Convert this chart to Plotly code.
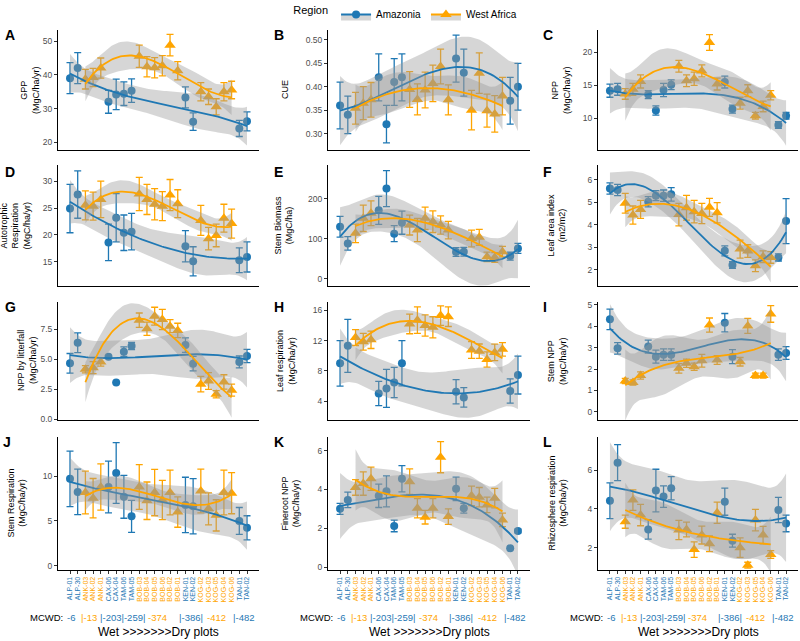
import numpy as np
import plotly.graph_objects as go

# ---------------- data ----------------
PLOTS = ["ALP-01", "ALP-30", "ANK-03", "ANK-02", "ANK-01", "CAX-06", "CAX-04", "TAM-06",
         "TAM-05", "BOB-03", "BOB-04", "BOB-05", "BOB-06", "BOB-02", "BOB-01", "KEN-01",
         "KEN-02", "KOG-02", "KOG-03", "KOG-05", "KOG-04", "KOG-06", "TAN-01", "TAN-02"]
AMAZONIA_PLOTS = ["ALP-01", "ALP-30", "CAX-06", "CAX-04", "TAM-06", "TAM-05",
                  "KEN-01", "KEN-02", "TAN-01", "TAN-02"]
AFRICA_PLOTS = ["ANK-03", "ANK-02", "ANK-01", "BOB-03", "BOB-04", "BOB-05", "BOB-06",
                "BOB-02", "BOB-01", "KOG-02", "KOG-03", "KOG-05", "KOG-04", "KOG-06"]

gpp_am = [39.0, 42.0, 32.0, 34.2, 34.4, 35.3, 33.3, 26.1, 24.1, 26.2]
gpp_am_se = [4.6, 4.6, 3.4, 4.5, 3.5, 3.5, 3.1, 2.6, 2.4, 2.8]
gpp_wa = [38.7, 39.2, 42.0, 45.5, 42.4, 42.1, 42.7, 48.8, 41.2, 35.0, 33.5, 30.5, 35.0, 35.5]
gpp_wa_se = [2.9, 2.7, 3.0, 3.3, 3.0, 3.0, 3.0, 3.2, 2.7, 2.7, 2.3, 2.4, 2.7, 2.6]

cue_am = [0.36, 0.34, 0.42, 0.32, 0.41, 0.42, 0.46, 0.43, 0.37, 0.40]
cue_am_se = [0.05, 0.04, 0.05, 0.04, 0.05, 0.05, 0.05, 0.05, 0.05, 0.05]
cue_wa = [0.354, 0.365, 0.372, 0.394, 0.373, 0.393, 0.407, 0.443, 0.372, 0.350, 0.429, 0.349, 0.342, 0.380]
cue_wa_se = [0.034, 0.035, 0.037, 0.038, 0.033, 0.038, 0.039, 0.037, 0.032, 0.042, 0.043, 0.035, 0.039, 0.040]

npp_am = [14.2, 14.4, 13.6, 11.2, 14.3, 15.1, 15.5, 11.4, 9.0, 10.4]
npp_am_se = [1.0, 0.9, 0.6, 0.7, 1.0, 0.75, 0.9, 0.6, 0.5, 0.5]
npp_wa = [13.7, 14.4, 15.6, 17.9, 15.7, 16.0, 17.2, 21.5, 15.2, 12.3, 14.2, 10.4, 11.8, 13.5]
npp_wa_se = [0.8, 0.9, 1.0, 0.9, 0.9, 1.0, 0.9, 1.2, 0.9, 0.9, 0.9, 0.5, 0.8, 0.7]

ra_am = [24.9, 27.5, 18.6, 23.2, 20.4, 20.6, 17.9, 15.1, 15.3, 15.9]
ra_am_se = [4.5, 4.4, 3.4, 4.5, 3.3, 3.4, 2.9, 2.7, 2.3, 2.8]
ra_wa = [25.5, 25.35, 26.6, 27.6, 26.6, 25.7, 25.35, 27.4, 25.8, 22.7, 19.3, 19.9, 23.1, 22.1]
ra_wa_se = [2.7, 2.6, 3.4, 3.1, 2.8, 2.9, 2.7, 2.9, 2.6, 2.8, 2.1, 2.1, 2.6, 2.7]

sb_am = [130.5, 88.7, 171.5, 226.0, 113.0, 140.6, 67.0, 67.8, 57.0, 76.0]
sb_am_se = [26, 17, 35, 45, 20, 29, 11, 11, 10, 12.5]
sb_wa = [113.8, 151.5, 164.0, 134.7, 122.0, 151.5, 143.0, 134.7, 122.0, 101.0, 104.0, 55.0, 53.5, 68.0]
sb_wa_se = [23, 33, 31, 25, 29, 28, 27, 23, 22, 21, 20, 12, 12, 13]

lai_am = [5.61, 5.54, 5.02, 5.29, 5.29, 5.35, 2.84, 2.21, 2.55, 4.16]
lai_am_se = [0.25, 0.25, 0.23, 0.22, 0.25, 0.3, 0.22, 0.15, 0.16, 1.0]
lai_wa = [4.95, 4.43, 4.68, 4.45, 4.75, 4.58, 4.5, 4.77, 4.53, 2.92, 2.83, 2.18, 2.58, 2.55]
lai_wa_se = [0.44, 0.4, 0.4, 0.5, 0.55, 0.5, 0.45, 0.4, 0.45, 0.4, 0.28, 0.26, 0.26, 0.26]

lit_am = [4.67, 6.39, 5.22, 3.06, 5.64, 6.11, 6.19, 4.64, 4.78, 5.28]
lit_am_se = [0.82, 0.83, 0.1, 0.0, 0.4, 0.3, 0.6, 0.6, 0.5, 0.55]
lit_wa = [4.17, 4.3, 4.78, 8.28, 7.56, 8.61, 8.33, 7.78, 7.42, 2.92, 3.19, 2.08, 3.11, 2.42]
lit_wa_se = [0.3, 0.5, 0.35, 0.6, 0.55, 0.75, 0.85, 0.55, 0.6, 0.65, 0.7, 0.3, 0.6, 0.5]

lr_am = [8.99, 11.3, 5.0, 5.68, 6.47, 9.0, 5.24, 4.49, 5.33, 7.44]
lr_am_se = [3.0, 3.5, 1.6, 2.5, 2.0, 3.0, 1.6, 1.3, 1.6, 2.5]
lr_wa = [12.4, 11.85, 12.1, 14.2, 14.7, 14.0, 13.75, 15.3, 15.16, 10.75, 10.6, 9.5, 10.44, 10.84]
lr_wa_se = [1.05, 1.1, 1.15, 1.3, 1.75, 1.4, 1.4, 1.3, 1.3, 1.1, 0.95, 1.0, 1.1, 0.9]

snpp_am = [4.33, 2.97, 3.05, 2.58, 2.67, 2.67, 4.17, 2.58, 2.67, 2.75]
snpp_am_se = [0.48, 0.27, 0.3, 0.3, 0.27, 0.27, 0.43, 0.33, 0.27, 0.3]
snpp_wa = [1.44, 1.37, 1.70, 2.03, 2.27, 2.11, 2.39, 4.06, 2.42, 2.34, 4.02, 1.69, 1.69, 4.58]
snpp_wa_se = [0.12, 0.12, 0.17, 0.22, 0.19, 0.17, 0.3, 0.33, 0.2, 0.2, 0.35, 0.12, 0.12, 0.39]

sr_am = [9.71, 8.25, 8.8, 10.36, 7.7, 5.51, 6.79, 6.64, 5.0, 4.23]
sr_am_se = [3.1, 2.55, 2.9, 3.4, 2.4, 1.8, 3.1, 3.1, 1.5, 1.35]
sr_wa = [8.18, 7.55, 8.8, 8.8, 7.26, 8.18, 7.34, 8.18, 5.99, 8.36, 6.35, 5.62, 8.18, 8.1]
sr_wa_se = [2.4, 2.2, 2.6, 2.5, 2.1, 2.6, 2.2, 2.5, 1.7, 2.45, 1.8, 1.75, 2.5, 2.3]

fr_am = [3.0, 3.46, 3.67, 3.9, 2.12, 4.55, 4.03, 3.03, 0.97, 1.86]
fr_am_se = [0.28, 0.4, 0.6, 0.8, 0.3, 0.68, 0.6, 0.25, 0.0, 0.1]
fr_wa = [4.1, 4.3, 4.55, 4.4, 3.03, 2.57, 3.03, 5.66, 2.6, 3.67, 3.6, 3.2, 3.55, 2.43]
fr_wa_se = [0.4, 0.6, 0.6, 0.66, 0.5, 0.35, 0.5, 0.8, 0.4, 0.5, 0.5, 0.4, 0.5, 0.35]

rr_am = [4.42, 6.38, 2.94, 4.94, 4.63, 5.06, 4.37, 2.36, 3.94, 3.25]
rr_am_se = [0.92, 0.93, 0.5, 1.1, 0.55, 0.6, 0.7, 0.33, 0.65, 0.43]
rr_wa = [3.34, 4.45, 3.68, 2.91, 2.94, 1.9, 2.65, 2.2, 3.8, 2.0, 1.1, 3.42, 2.65, 1.65]
rr_wa_se = [0.34, 0.53, 0.55, 0.5, 0.38, 0.4, 0.46, 0.4, 0.55, 0.5, 0.15, 0.55, 0.45, 0.2]

PANEL_LETTERS = ["A", "B", "C", "D", "E", "F", "G", "H", "I", "J", "K", "L"]
PANEL_TITLES = ["GPP<br>(MgC/ha/yr)", "CUE", "NPP<br>(MgC/ha/yr)",
                "Autotrophic<br>Respiration<br>(MgC/ha/yr)", "Stem Biomass<br>(MgC/ha)",
                "Leaf area index<br>(m2/m2)", "NPP by litterfall<br>(MgC/ha/yr)",
                "Leaf respiration<br>(MgC/ha/yr)", "Stem NPP<br>(MgC/ha/yr)",
                "Stem Respiration<br>(MgC/ha/yr)", "Fineroot NPP<br>(MgC/ha/yr)",
                "Rhizosphere respiration<br>(MgC/ha/yr)"]
PANEL_DATA = [
    (gpp_am, gpp_am_se, gpp_wa, gpp_wa_se), (cue_am, cue_am_se, cue_wa, cue_wa_se),
    (npp_am, npp_am_se, npp_wa, npp_wa_se), (ra_am, ra_am_se, ra_wa, ra_wa_se),
    (sb_am, sb_am_se, sb_wa, sb_wa_se), (lai_am, lai_am_se, lai_wa, lai_wa_se),
    (lit_am, lit_am_se, lit_wa, lit_wa_se), (lr_am, lr_am_se, lr_wa, lr_wa_se),
    (snpp_am, snpp_am_se, snpp_wa, snpp_wa_se), (sr_am, sr_am_se, sr_wa, sr_wa_se),
    (fr_am, fr_am_se, fr_wa, fr_wa_se), (rr_am, rr_am_se, rr_wa, rr_wa_se)]
Y_TICKS = [[20, 30, 40, 50], [0.30, 0.35, 0.40, 0.45, 0.50], [10, 15, 20], [15, 20, 25, 30],
           [0, 100, 200], [2, 3, 4, 5, 6], [0.0, 2.5, 5.0, 7.5], [4, 8, 12, 16],
           [0, 1, 2, 3, 4, 5], [0, 5, 10], [0, 2, 4, 6], [2, 4, 6]]
Y_TICKFMT = ["", ".2f", "", "", "", "", ".1f", "", "", "", "", ""]
Y_RANGES = [[17.7, 53.3], [0.265, 0.521], [5.2, 23.4], [10.5, 33.0], [-18, 285],
            [1.28, 6.65], [-0.08, 9.8], [1.5, 17.1], [-0.39, 5.14], [-0.5, 14.4],
            [-0.15, 6.7], [0.85, 7.7]]

MCWD_LABELS = ["-6", "|-13", "|-203|-259|", "-374", "|-386|", "-412", "|-482"]
MCWD_REGION = ["Amazonia", "West Africa", "Amazonia", "West Africa", "Amazonia",
               "West Africa", "Amazonia"]

COLORS = {"Amazonia": "#1f78b4", "West Africa": "#FFA500"}
BAND = "rgba(153,153,153,0.4)"
FONT = "Liberation Sans, Arial, sans-serif"


# ---------------- smoother: lm(y ~ poly(x, 3)) with 95% CI ----------------
def t975(df):
    z = 1.959964
    return (z + (z**3 + z) / (4 * df) + (5 * z**5 + 16 * z**3 + 3 * z) / (96 * df**2)
            + (3 * z**7 + 19 * z**5 + 17 * z**3 - 15 * z) / (384 * df**3))


def poly_smooth(x, y, deg=3, n_out=80):
    x = np.asarray(x, float)
    y = np.asarray(y, float)
    m, s = x.mean(), x.std()
    xs = (x - m) / s
    X = np.vander(xs, deg + 1, increasing=True)
    beta, *_ = np.linalg.lstsq(X, y, rcond=None)
    res = y - X @ beta
    df = len(x) - (deg + 1)
    sigma = np.sqrt(np.sum(res**2) / df)
    XtXi = np.linalg.inv(X.T @ X)
    xg = np.linspace(x.min(), x.max(), n_out)
    G = np.vander((xg - m) / s, deg + 1, increasing=True)
    fit = G @ beta
    se = sigma * np.sqrt(np.einsum("ij,jk,ik->i", G, XtXi, G))
    tq = t975(df)
    return xg, fit, fit - tq * se, fit + tq * se


# ---------------- layout geometry ----------------
W, H = 800, 641
cols_px = [(58, 259), (328, 530), (598, 798)]
rows_px = [(30, 150), (165, 286), (302, 420), (437, 570)]
title_x_px = [30, 285, 561, 15, 284, 557, 27, 286, 557, 16, 290, 557]
letter_pos_px = [(3, 35), (272, 35), (541, 35), (3, 172), (272, 172), (541, 172),
                 (3, 307), (272, 307), (541, 307), (1, 442), (272, 442), (541, 442)]
mcwd_label_px = [46, 316, 586]

idx = {p: i for i, p in enumerate(PLOTS)}
x_am = [idx[p] for p in AMAZONIA_PLOTS]
x_wa = [idx[p] for p in AFRICA_PLOTS]

fig = go.Figure()
annotations = []
layout_axes = {}

region_of = {p: "Amazonia" for p in AMAZONIA_PLOTS}
region_of.update({p: "West Africa" for p in AFRICA_PLOTS})
ticktext = ['<span style="color:%s">%s</span>' % (COLORS[region_of[p]], p) for p in PLOTS]

for i in range(12):
    r, c = divmod(i, 3)
    xs = "" if i == 0 else str(i + 1)
    xref, yref = "x" + xs, "y" + xs
    am, am_se, wa, wa_se = PANEL_DATA[i]
    groups = [("Amazonia", x_am, am, am_se, "circle", 8),
              ("West Africa", x_wa, wa, wa_se, "triangle-up", 10)]
    for name, xv, yv, ev, sym, sz in groups:
        col = COLORS[name]
        fig.add_trace(go.Scatter(
            x=xv, y=yv, mode="markers", xaxis=xref, yaxis=yref, showlegend=False,
            marker=dict(color=col, symbol=sym, size=sz, line=dict(width=0)),
            error_y=dict(type="data", array=ev, visible=True, color=col,
                         thickness=1.3, width=3.5),
            cliponaxis=False, hoverinfo="skip"))
    for name, xv, yv, ev, sym, sz in groups:
        col = COLORS[name]
        xg, fit, lo, hi = poly_smooth(xv, yv)
        fig.add_trace(go.Scatter(
            x=np.concatenate([xg, xg[::-1]]), y=np.concatenate([hi, lo[::-1]]),
            mode="lines", fill="toself", fillcolor=BAND, line=dict(width=0),
            xaxis=xref, yaxis=yref, showlegend=False, hoverinfo="skip"))
        fig.add_trace(go.Scatter(
            x=xg, y=fit, mode="lines", line=dict(color=col, width=1.8),
            xaxis=xref, yaxis=yref, showlegend=False, hoverinfo="skip"))

    x0p, x1p = cols_px[c]
    y0p, y1p = rows_px[r]
    bottom = r == 3
    layout_axes["xaxis" + xs] = dict(
        domain=[x0p / W, x1p / W], anchor=yref, range=[-1.56, 24.56],
        showgrid=False, zeroline=False, showline=True, linecolor="black", linewidth=1,
        ticks="outside" if bottom else "", ticklen=3, tickcolor="#333",
        tickvals=list(range(len(PLOTS))), ticktext=ticktext,
        showticklabels=bottom, tickangle=-90,
        tickfont=dict(size=7, family=FONT))
    layout_axes["yaxis" + xs] = dict(
        domain=[1 - y1p / H, 1 - y0p / H], anchor=xref, range=Y_RANGES[i],
        showgrid=False, zeroline=False, showline=True, linecolor="black", linewidth=1,
        ticks="outside", ticklen=3, tickcolor="#333", tickvals=Y_TICKS[i],
        tickformat=Y_TICKFMT[i], tickfont=dict(size=8.5, color="#4d4d4d", family=FONT))
    annotations.append(dict(
        text=PANEL_TITLES[i], x=title_x_px[i] / W, y=1 - (y0p + y1p) / 2 / H,
        xref="paper", yref="paper", showarrow=False, textangle=-90,
        xanchor="center", yanchor="middle", font=dict(size=9, color="black", family=FONT)))
    lx, ly = letter_pos_px[i]
    annotations.append(dict(
        text="<b>%s</b>" % PANEL_LETTERS[i], x=lx / W, y=1 - ly / H, xref="paper",
        yref="paper", showarrow=False, xanchor="left", yanchor="middle",
        font=dict(size=14, color="black", family=FONT)))
    if bottom:
        mc_x = [0.1, 2.5, 6.8, 11.4, 15.7, 19.0, 22.6]
        annotations.append(dict(
            text="MCWD:", x=mcwd_label_px[c] / W, y=1 - 617 / H, xref="paper", yref="paper",
            showarrow=False, xanchor="center", yanchor="middle",
            font=dict(size=9.5, color="black", family=FONT)))
        for lab, reg, px in zip(MCWD_LABELS, MCWD_REGION, mc_x):
            annotations.append(dict(
                text=lab, x=px, y=1 - 617 / H, xref=xref, yref="paper",
                showarrow=False, xanchor="center", yanchor="middle",
                font=dict(size=9.5, color=COLORS[reg], family=FONT)))
        annotations.append(dict(
            text="Wet >>>>>>>Dry plots", x=(x0p + x1p) / 2 / W, y=1 - 632 / H,
            xref="paper", yref="paper", showarrow=False, xanchor="center",
            yanchor="middle", font=dict(size=12, color="black", family=FONT)))

for name, sym, sz in [("Amazonia", "circle", 8), ("West Africa", "triangle-up", 10)]:
    fig.add_trace(go.Scatter(
        x=[None], y=[None], mode="lines+markers", name=name, fill="toself",
        fillcolor=BAND, line=dict(color=COLORS[name], width=1.8),
        marker=dict(color=COLORS[name], symbol=sym, size=sz), showlegend=True))

fig.update_layout(
    width=W, height=H, margin=dict(l=0, r=0, t=0, b=0, autoexpand=False),
    paper_bgcolor="white", plot_bgcolor="white",
    font=dict(family=FONT, color="black"),
    annotations=annotations,
    legend=dict(orientation="h", x=0.364, y=1.0, xanchor="left", yanchor="top",
                title=dict(text="Region", side="left", font=dict(size=11)),
                font=dict(size=10), bgcolor="rgba(0,0,0,0)", itemwidth=30,
                tracegroupgap=0),
    **layout_axes)

fig.write_html(
    "out.html", config={"displayModeBar": False},
    post_script="document.body.style.margin='0';document.body.style.padding='0';"
                "document.body.style.overflow='hidden';")
